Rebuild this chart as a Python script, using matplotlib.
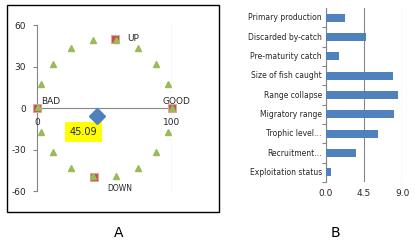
import matplotlib.pyplot as plt
from matplotlib.patches import Rectangle
from matplotlib import font_manager

# --- Panel A data ---
tri_x = [100, 97.0, 88.3, 75.0, 58.7, 41.3, 25.0, 11.7, 3.0, 0.5,
         3.0, 11.7, 25.0, 41.3, 58.7, 75.0, 88.3, 97.0]
tri_y = [0, 17.1, 32.1, 43.3, 49.2, 49.2, 43.3, 32.1, 17.1, 1.0,
         -17.1, -32.1, -43.3, -49.2, -49.2, -43.3, -32.1, -17.1]
sq_x = [0, 100, 58, 42]
sq_y = [0, 0, 50, -50]
score_x = [44.7]
score_y = [-5.5]
score_label = "45.09"

# --- Panel B data ---
cats = ["Primary production", "Discarded by-catch", "Pre-maturity catch",
        "Size of fish caught", "Range collapse", "Migratory range",
        "Trophic level\u2026", "Recruitment\u2026", "Exploitation status"]
vals = [2.2, 4.7, 1.55, 7.95, 8.45, 8.0, 6.1, 3.5, 0.55]
xticks_b = [0.0, 4.5, 9.0]

names = {f.name for f in font_manager.fontManager.ttflist}
narrow = "Liberation Sans Narrow" if "Liberation Sans Narrow" in names else "DejaVu Sans"

W, H = 415, 245
fig = plt.figure(figsize=(W / 100, H / 100), dpi=100)
grey = "#868686"
green = "#9BBB59"
red = "#C0504D"
blue = "#4F81BD"
txt = "#262626"

# chart-area border of panel A
fig.patches.append(Rectangle((7 / W, 1 - 212 / H), 212 / W, 207 / H,
                             transform=fig.transFigure, fill=False,
                             edgecolor="black", linewidth=1.0))

# ---------- Panel A ----------
ax = fig.add_axes([37 / W, 1 - 191 / H, 135 / W, 166 / H])
ax.set_xlim(0, 100)
ax.set_ylim(-60, 60)
for s in ["top", "right", "bottom"]:
    ax.spines[s].set_visible(False)
ax.spines["left"].set_color(grey)
ax.spines["left"].set_linewidth(0.8)
ax.axhline(0, color=grey, lw=0.8, zorder=1)
ax.axvline(100, color=grey, lw=0.8, zorder=1)
ax.set_yticks([60, 30, 0, -30, -60])
ax.set_yticklabels(["60", "30", "0", "-30", "-60"])
ax.tick_params(axis="y", length=3, color=grey, labelsize=6.5, pad=5,
               labelcolor=txt)
ax.set_xticks([])
ax.text(0, -7, "0", ha="center", va="top", fontsize=6.5, color=txt)
ax.text(100, -7, "100", ha="center", va="top", fontsize=6.5, color=txt)

ax.plot(sq_x, sq_y, "s", ms=5.5, color=red, mec="#E6A6A4", mew=0.8,
        ls="none", clip_on=False, zorder=3)
ax.plot(tri_x, tri_y, "^", ms=4.5, color=green, ls="none",
        clip_on=False, zorder=4)
ax.plot(score_x, score_y, "D", ms=8, color=blue, ls="none", zorder=5)

ax.text(71, 50, "UP", fontsize=6.5, ha="center", va="center", color=txt)
ax.text(61, -58, "DOWN", fontsize=5.5, ha="center", va="center", color=txt)
ax.text(10, 4.5, "BAD", fontsize=6.5, ha="center", va="center", color=txt)
ax.text(103, 4.5, "GOOD", fontsize=6.5, ha="center", va="center", color=txt)
ax.text(34.3, -17.6, score_label, fontsize=7, ha="center", va="center",
        color=txt, bbox=dict(boxstyle="square,pad=0.5", fc="#FFFF00", ec="none"))

# ---------- Panel B ----------
bx = fig.add_axes([326 / W, 1 - 182 / H, 76.3 / W, 174 / H])
ypos = list(range(len(cats)))[::-1]
bx.barh(ypos, vals, height=0.4, color=blue, zorder=3)
bx.set_xlim(0, 9)
bx.set_ylim(-0.5, len(cats) - 0.5)
for s in ["top", "right", "bottom"]:
    bx.spines[s].set_visible(False)
bx.spines["left"].set_color(grey)
bx.spines["left"].set_linewidth(0.8)
bx.set_xticks(xticks_b)
bx.set_xticklabels(["%.1f" % t for t in xticks_b])
bx.tick_params(axis="x", length=0, labelsize=6.5, pad=5, labelcolor=txt)
bx.grid(axis="x", color=grey, lw=0.8, zorder=0)
bx.set_yticks([y + 0.5 for y in range(len(cats) - 1)] + [-0.5], minor=False)
bx.set_yticklabels([])
bx.tick_params(axis="y", length=3, color=grey)
for y, c in zip(ypos, cats):
    bx.text(-0.5, y, c, ha="right", va="center", fontsize=5.5,
            family=narrow, color=txt)

fig.text(119 / W, 1 - 233 / H, "A", ha="center", va="center", fontsize=10)
fig.text(335 / W, 1 - 233 / H, "B", ha="center", va="center", fontsize=10)

fig.savefig("out.png", dpi=100)
